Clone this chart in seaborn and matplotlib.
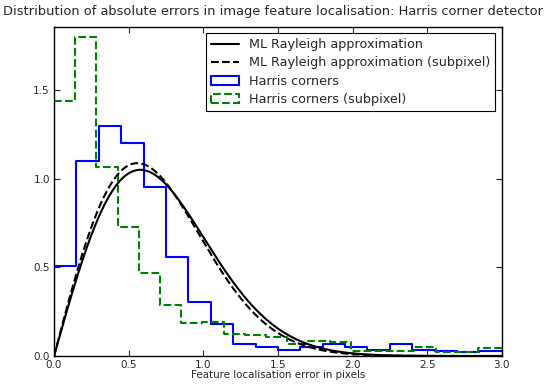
import numpy as np
import pandas as pd
import matplotlib
matplotlib.use("Agg")
import matplotlib.pyplot as plt
import seaborn as sns
from matplotlib.lines import Line2D
from matplotlib.patches import Patch

# ---- data ----
harris_width = 0.15
harris_heights = [0.51, 1.10, 1.295, 1.20, 0.95, 0.56, 0.305, 0.18, 0.07, 0.053,
                  0.034, 0.053, 0.07, 0.053, 0.034, 0.07, 0.034, 0.03, 0.025, 0.03]
sub_width = 0.142
sub_heights = [1.435, 1.80, 1.065, 0.727, 0.47, 0.29, 0.185, 0.19, 0.124, 0.12,
               0.105, 0.07, 0.085, 0.08, 0.03, 0.03, 0.03, 0.05, 0.025, 0.025,
               0.043, 0.043]
sigma_ml = 0.578
sigma_ml_sub = 0.558

title = "Distribution of absolute errors in image feature localisation: Harris corner detector"
xlabel = "Feature localisation error in pixels"
labels = ["ML Rayleigh approximation", "ML Rayleigh approximation (subpixel)",
          "Harris corners", "Harris corners (subpixel)"]
xticks = [0.0, 0.5, 1.0, 1.5, 2.0, 2.5, 3.0]
yticks = [0.0, 0.5, 1.0, 1.5]

sns.set_theme(style="ticks")
plt.rcParams["font.family"] = ["DejaVu Sans"]

fig = plt.figure(figsize=(5.46, 3.85), dpi=100)
ax = fig.add_axes([0.099, 0.0753, 0.820, 0.855])

def hist_df(width, heights):
    n = len(heights)
    edges = [k * width for k in range(n + 1)]
    centers = [e + width / 2 for e in edges[:-1]]
    return pd.DataFrame({"x": centers, "w": heights}), edges

df_h, e_h = hist_df(harris_width, harris_heights)
df_s, e_s = hist_df(sub_width, sub_heights)

sns.histplot(data=df_h, x="x", weights="w", bins=e_h, stat="count",
             element="step", fill=False, color="#0000ff", linewidth=1.5, ax=ax)
sns.histplot(data=df_s, x="x", weights="w", bins=e_s, stat="count",
             element="step", fill=False, color="#008000", linewidth=1.5,
             linestyle="--", ax=ax)
# vertical closing edges at x=0
ax.plot([0, 0], [0, harris_heights[0]], color="#0000ff", lw=1.5)
ax.plot([0, 0], [0, sub_heights[0]], color="#008000", lw=1.5, ls="--")

xs = np.linspace(0, 3, 400)
def rayleigh(x, s):
    return x / s**2 * np.exp(-x**2 / (2 * s**2))
curve = pd.DataFrame({"x": xs, "a": rayleigh(xs, sigma_ml), "b": rayleigh(xs, sigma_ml_sub)})
sns.lineplot(data=curve, x="x", y="a", color="black", lw=1.5, ax=ax)
sns.lineplot(data=curve, x="x", y="b", color="black", lw=1.5, ls="--", ax=ax)

ax.set_xlim(0, 3.0)
ax.set_ylim(0, 1.855)
ax.set_xticks(xticks)
ax.set_yticks(yticks)
ax.set_xticklabels([f"{t:.1f}" for t in xticks], fontsize=7.5)
ax.set_yticklabels([f"{t:.1f}" for t in yticks], fontsize=7.5)
ax.tick_params(direction="in", top=True, right=True, length=4, width=0.8, pad=3)
for sp in ax.spines.values():
    sp.set_visible(True)
    sp.set_color("black")
    sp.set_linewidth(1.0)
ax.set_xlabel(xlabel, fontsize=7.4, labelpad=0)
ax.set_ylabel("")
fig.text(0.5, 1 - 12 / 385, title, fontsize=9.4, ha="center", va="center")

handles = [Line2D([], [], color="black", lw=1.5),
           Line2D([], [], color="black", lw=1.5, ls="--"),
           Patch(facecolor="none", edgecolor="#0000ff", lw=1.5),
           Patch(facecolor="none", edgecolor="#008000", lw=1.5, ls="--")]
leg = ax.legend(handles, labels, loc="upper right", fontsize=9.2, frameon=True,
                fancybox=False, edgecolor="black", framealpha=1,
                borderaxespad=0.5, handlelength=2.2, labelspacing=0.4,
                borderpad=0.4, handletextpad=0.8)
leg.get_frame().set_linewidth(0.8)

fig.savefig("out.png", dpi=100)
